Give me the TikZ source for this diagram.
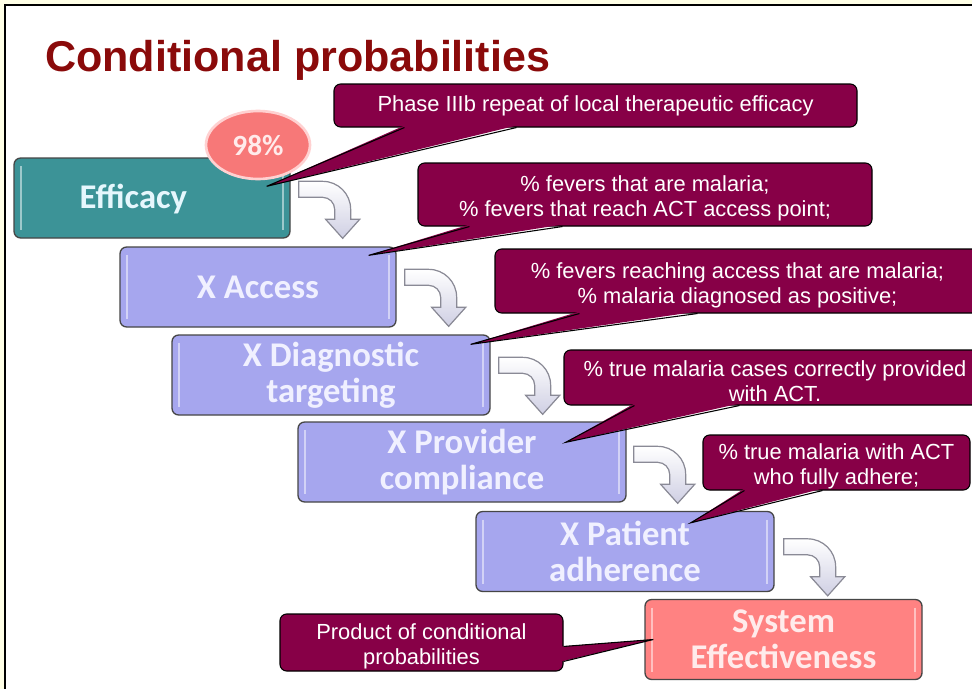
\documentclass[tikz,border=0pt]{standalone}
\usepackage{fontspec}
\setmainfont{Liberation Sans}
\newfontfamily\calibrifont{Carlito}
\usetikzlibrary{calc,shapes.geometric}

\definecolor{pagebg}{HTML}{FFFFE6}
\definecolor{titlered}{HTML}{8A0A0A}
\definecolor{notefill}{HTML}{870047}
\definecolor{tealbox}{HTML}{3C9397}
\definecolor{lilacbox}{HTML}{A6A6EE}
\definecolor{salmonbox}{HTML}{FF8282}
\definecolor{badgered}{HTML}{F77878}
\definecolor{turnedge}{HTML}{8A8A96}
\definecolor{turnfill}{HTML}{CFCFE3}

\begin{document}
\begin{tikzpicture}[
        x=0.75pt, y=-0.75pt,
        stagefont/.style={
            text=white!94!blue,
            font=\calibrifont\bfseries\fontsize{26}{27}\selectfont
        },
        stage/.style={
            rectangle, rounded corners=5pt, draw=gray!55!black, line width=1pt,
            minimum height=60pt, inner sep=0pt, align=center, stagefont,
            path picture={
                \draw[white, opacity=0.5, line width=1.5pt]
                    ([xshift=5pt,yshift=-6pt]path picture bounding box.north west) --
                    ([xshift=5pt,yshift=6pt]path picture bounding box.south west)
                    ([xshift=-5pt,yshift=-6pt]path picture bounding box.north east) --
                    ([xshift=-5pt,yshift=6pt]path picture bounding box.south east);
            }
        },
        note/.style={
            rectangle, rounded corners=5pt, fill=notefill, draw=black,
            line width=0.8pt, inner sep=0pt, align=center, text=white,
            font=\fontsize{16.4}{18.8}\selectfont
        },
        noteline/.style={draw=black, line width=0.8pt, line join=miter},
        turn/.pic={
            \filldraw[draw=turnedge, line width=0.9pt, top color=white,
                bottom color=turnfill]
                (0,0) -- (24,0) .. controls (39.5,0) and (52,12.5) .. (52,28)
                -- (52,38) -- (61,38) -- (44,57) -- (27,38) -- (36,38) -- (36,28)
                .. controls (36,21.4) and (30.6,16) .. (24,16) -- (0,16) -- cycle;
        }
    ]
        \useasboundingbox (0,0) rectangle (972,689);

        % Slide frame
        \fill[pagebg] (0,0) rectangle (972,689);
        \fill[white] (5,5) rectangle (972,689);
        \draw[line width=1.5pt] (972,5) -- (5,5) -- (5,689);

        % Title
        \node[anchor=base west, inner sep=0pt, text=titlered,
            font=\bfseries\fontsize{32.3}{32}\selectfont] (title) at (45,71)
            {Conditional probabilities};

        % Stages of the chain
        \node[stage, fill=tealbox, minimum width=207pt,
            label={[stagefont, text=white!90!cyan, xshift=-14pt, yshift=-1pt]center:Efficacy}]
            (eff) at (152,198) {};
        \node[stage, fill=lilacbox, minimum width=207pt] (acc) at (258,287) {X Access};
        \node[stage, fill=lilacbox, minimum width=238.5pt] (diag) at (331,375)
            {X Diagnostic\\targeting};
        \node[stage, fill=lilacbox, minimum width=246pt] (prov) at (462,462)
            {X Provider\\compliance};
        \node[stage, fill=lilacbox, minimum width=223.5pt] (pat) at (625,551.5)
            {X Patient\\adherence};
        \node[stage, fill=salmonbox, minimum width=207.75pt, text=white!92!red] (sys)
            at (783.5,639.5) {System\\Effectiveness};

        % Bent arrows between the stages
        \pic at ($(eff.north east)+(8,24)$) {turn};
        \pic at ($(acc.north east)+(8,23)$) {turn};
        \pic at ($(diag.north east)+(8,23)$) {turn};
        \pic at ($(prov.north east)+(7,25)$) {turn};
        \pic at ($(pat.north east)+(9,28)$) {turn};

        % Badge
        \node[ellipse, fill=badgered, draw=red!18, line width=2pt,
            minimum width=78pt, minimum height=51pt, text=white!92!red,
            font=\calibrifont\bfseries\fontsize{22}{22}\selectfont] (badge)
            at (258,145) {98\%};

        % Pointer tips
        \coordinate (tip1) at ($(eff.north east)+(-24,29)$);
        \coordinate (tip2) at ($(acc.north east)+(-28,9)$);
        \coordinate (tip3) at ($(diag.north east)+(-20,10)$);
        \coordinate (tip4) at ($(prov.north east)+(-61,21)$);
        \coordinate (tip5) at ($(pat.north east)+(-84,12)$);
        \coordinate (tip6) at ($(sys.west)+(9,0)$);

        % Callout 1
        \node[note, minimum width=392.25pt, minimum height=32.25pt] (n1) at (595.5,105.5)
            {Phase IIIb repeat of local therapeutic efficacy};
        \fill[notefill] ($(n1.south west)+(71,-2)$) -- (tip1) -- ($(n1.south west)+(183,-2)$) -- cycle;
        \draw[noteline] ($(n1.south west)+(71,0)$) -- (tip1) -- ($(n1.south west)+(183,0)$);

        % Callout 2
        \node[note, minimum width=340.5pt, minimum height=47.25pt] (n2) at (645,194.5)
            {\rule{0pt}{18pt}\% fevers that are malaria;\\\% fevers that reach ACT access point;};
        \fill[notefill] ($(n2.south west)+(52,-2)$) -- (tip2) -- ($(n2.south west)+(145,-2)$) -- cycle;
        \draw[noteline] ($(n2.south west)+(52,0)$) -- (tip2) -- ($(n2.south west)+(145,0)$);

        % Callout 3
        \node[note, minimum width=363.75pt, minimum height=48pt] (n3) at (737.5,281)
            {\rule{0pt}{18pt}\% fevers reaching access that are malaria;\\\% malaria diagnosed as positive;};
        \fill[notefill] ($(n3.south west)+(85,-2)$) -- (tip3) -- ($(n3.south west)+(203,-2)$) -- cycle;
        \draw[noteline] ($(n3.south west)+(85,0)$) -- (tip3) -- ($(n3.south west)+(203,0)$);

        % Callout 4
        \node[note, minimum width=316.5pt, minimum height=41.25pt] (n4) at (775,377.5)
            {\rule{0pt}{18pt}\% true malaria cases correctly provided\\with ACT.};
        \fill[notefill] ($(n4.south west)+(71,-2)$) -- (tip4) -- ($(n4.south west)+(176,-2)$) -- cycle;
        \draw[noteline] ($(n4.south west)+(71,0)$) -- (tip4) -- ($(n4.south west)+(176,0)$);

        % Callout 5
        \node[note, minimum width=200.25pt, minimum height=41.25pt] (n5) at (836.5,462.5)
            {\rule{0pt}{18pt}\% true malaria with ACT\\who fully adhere;};
        \fill[notefill] ($(n5.south west)+(42,-2)$) -- (tip5) -- ($(n5.south west)+(120,-2)$) -- cycle;
        \draw[noteline] ($(n5.south west)+(42,0)$) -- (tip5) -- ($(n5.south west)+(120,0)$);

        % Callout 6
        \node[note, minimum width=212.25pt, minimum height=42.75pt] (n6) at (421.5,642.5)
            {\rule{0pt}{18pt}Product of conditional\\probabilities};
        \fill[notefill] ($(n6.north east)+(-2,33)$) -- (tip6) -- ($(n6.north east)+(-2,48)$) -- cycle;
        \draw[noteline] ($(n6.north east)+(0,33)$) -- (tip6) -- ($(n6.north east)+(0,48)$);

    \end{tikzpicture}
\end{document}
